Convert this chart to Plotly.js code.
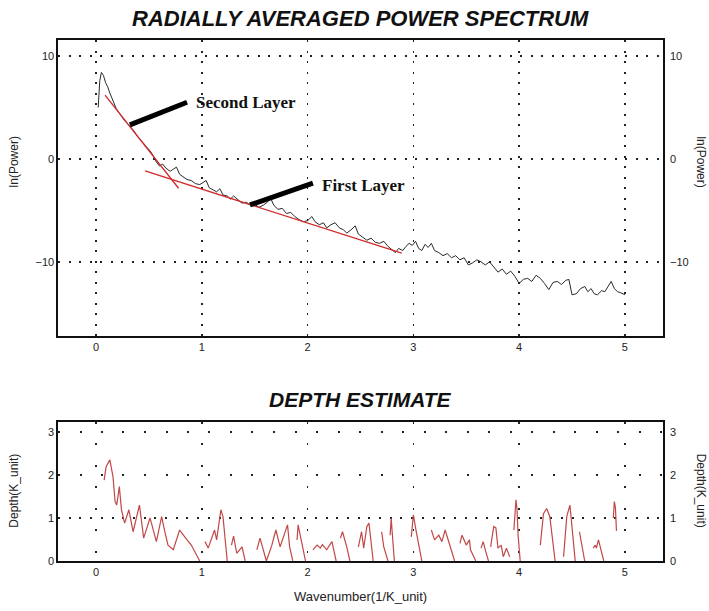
<!DOCTYPE html>
<html>
<head>
<meta charset="utf-8">
<script src="https://cdn.plot.ly/plotly-3.0.1.min.js"></script>
<style>html,body{margin:0;padding:0;background:#fff;}#chart{width:709px;height:611px;}</style>
</head>
<body>
<div id="chart"></div>
<script>
// Power spectrum: wavenumber and ln(Power)
const specK = [0.02,0.035,0.05,0.07,0.09,0.11,0.13,0.15,0.17,0.19,0.21,0.23,0.25,0.27,0.30,0.33,0.36,0.39,0.42,0.45,0.48,0.51,0.54,0.57,0.60,0.63,0.66,0.70,0.73,0.76,0.79,0.82,0.86,0.90,0.94,0.98,1.01,1.04,1.07,1.10,1.14,1.17,1.20,1.24,1.27,1.30,1.34,1.38,1.42,1.46,1.50,1.54,1.58,1.62,1.65,1.68,1.72,1.76,1.80,1.84,1.88,1.92,1.96,2.00,2.04,2.07,2.11,2.15,2.18,2.22,2.26,2.30,2.34,2.37,2.41,2.45,2.48,2.52,2.56,2.60,2.64,2.68,2.72,2.76,2.80,2.83,2.86,2.90,2.93,2.96,2.99,3.02,3.05,3.08,3.11,3.14,3.17,3.20,3.24,3.28,3.32,3.36,3.40,3.44,3.48,3.52,3.56,3.60,3.64,3.68,3.72,3.76,3.80,3.84,3.88,3.92,3.96,4.00,4.04,4.08,4.12,4.16,4.20,4.24,4.28,4.32,4.36,4.40,4.44,4.47,4.50,4.54,4.58,4.62,4.65,4.68,4.71,4.74,4.78,4.81,4.84,4.87,4.90,4.93,4.96,5.00];
const specLnP = [5.0,7.6,8.4,8.1,7.4,7.0,6.4,5.9,5.4,4.9,4.6,4.3,4.0,3.7,3.4,3.1,2.7,2.2,1.9,1.5,1.1,0.8,0.3,-0.3,-0.7,-0.5,-0.9,-1.2,-1.0,-0.8,-1.5,-1.7,-2.0,-2.1,-2.4,-2.5,-2.3,-2.1,-2.8,-3.0,-3.2,-2.9,-3.5,-3.6,-3.9,-3.6,-4.0,-4.3,-4.2,-4.5,-4.4,-4.7,-4.5,-4.2,-3.8,-4.5,-4.9,-4.8,-5.3,-5.2,-5.6,-5.9,-6.1,-6.0,-5.6,-6.1,-6.4,-6.2,-6.7,-6.4,-6.2,-6.7,-6.9,-7.2,-6.9,-6.5,-7.3,-7.6,-7.9,-7.7,-8.1,-8.2,-8.0,-8.5,-8.8,-9.1,-8.7,-8.9,-8.5,-8.2,-8.4,-8.0,-8.7,-8.9,-8.3,-8.6,-8.2,-8.9,-9.1,-9.4,-9.2,-9.6,-9.4,-9.8,-9.6,-10.3,-10.1,-9.8,-10.0,-10.3,-10.0,-10.5,-11.0,-10.7,-11.2,-10.9,-11.4,-12.1,-11.7,-11.6,-11.9,-11.3,-11.6,-12.1,-12.7,-12.0,-11.9,-12.2,-11.8,-11.7,-13.2,-13.1,-12.6,-12.4,-12.9,-12.6,-13.1,-13.2,-12.8,-12.9,-12.4,-11.9,-12.6,-12.9,-13.0,-13.2];

// Fitted segments
const fitSecondK = [0.085, 0.78];
const fitSecondLnP = [6.2, -2.85];
const fitFirstK = [0.463, 2.89];
const fitFirstLnP = [-1.17, -9.16];

// Depth estimate (null = gap)
const depthK = [0.076,0.095,0.13,0.16,0.18,0.195,0.22,0.24,0.27,0.31,0.35,0.41,0.45,0.51,0.57,0.62,0.65,0.68,0.73,0.79,0.86,0.90,0.98,1.00,
1.03,1.06,1.12,1.14,1.18,1.20,1.24,1.26,
1.28,1.30,1.33,1.38,1.41,1.45,
1.52,1.55,1.61,1.66,1.70,1.74,1.77,1.81,1.83,1.86,1.88,
1.90,1.91,1.98,2.02,
2.05,2.09,2.12,2.14,2.18,2.23,2.27,2.29,
2.31,2.33,2.37,2.40,2.44,
2.48,2.51,2.53,2.56,2.58,2.62,2.66,
2.70,2.72,2.76,2.77,
2.78,2.79,2.82,2.90,
2.98,3.00,3.03,3.08,3.12,
3.17,3.20,3.24,3.27,3.30,3.36,3.39,3.41,
3.44,3.46,3.50,3.53,3.54,3.59,3.61,
3.64,3.66,3.68,3.71,3.72,
3.73,3.76,3.78,3.80,3.83,3.85,3.88,3.91,3.93,
3.95,3.97,3.98,3.99,4.01,4.10,
4.20,4.23,4.26,4.29,4.32,4.34,4.38,
4.42,4.45,4.48,4.50,4.53,4.55,
4.57,4.62,4.66,
4.70,4.72,4.73,4.75,4.80,4.85,
4.89,4.90,4.91,4.92];
const depthVal = [1.88,2.19,2.35,1.96,1.38,1.30,1.73,1.19,0.88,1.19,0.68,1.30,0.53,1.00,0.45,1.03,0.68,0.37,0.26,0.72,0.49,0.37,0.0,null,
0.45,0.30,0.72,0.49,1.19,1.03,0.0,null,
0.37,0.58,0.18,0.33,0.0,null,
0.26,0.53,0.0,0.35,0.72,0.33,0.55,0.84,0.33,0.0,null,
0.49,0.84,0.0,null,
0.26,0.37,0.30,0.38,0.26,0.45,0.0,null,
0.53,0.68,0.33,0.0,null,
0.33,0.68,0.30,0.80,0.88,0.0,null,
0.68,0.33,0.0,null,
0.60,0.99,0.0,null,
0.56,1.07,0.64,0.0,null,
0.72,0.49,0.60,0.45,0.72,0.26,0.0,null,
0.41,0.60,0.37,0.49,0.26,0.0,null,
0.30,0.45,0.26,0.0,null,
0.33,0.80,0.77,0.30,0.37,0.10,0.30,0.10,null,
0.72,1.42,1.19,0.60,0.0,null,
0.37,1.10,1.22,1.03,0.41,0.0,null,
0.10,1.03,1.30,0.80,0.0,null,
0.68,0.0,null,
0.30,0.37,0.30,0.49,0.0,null,
1.00,1.38,1.25,0.70];

const xTicks = [0,1,2,3,4,5];
const specTicks = [10,0,-10];
const depthTicks = [0,1,2,3];

const tickFont = {family:'Liberation Sans, Arial, sans-serif', size:11, color:'#222'};
const dotGrid = '2px,8.5px';

// hidden copies bind the overlay (right-side / extra grid) axes so they are drawn
const ghost = {type:'scatter', mode:'lines', opacity:0, line:{width:0}, hoverinfo:'skip'};

const traces = [
  {x:specK, y:specLnP, type:'scatter', mode:'lines', line:{color:'#2a2a2a', width:1}, xaxis:'x', yaxis:'y', hoverinfo:'skip'},
  {x:fitSecondK, y:fitSecondLnP, type:'scatter', mode:'lines', line:{color:'#d02a2a', width:1.3}, xaxis:'x', yaxis:'y'},
  {x:fitFirstK, y:fitFirstLnP, type:'scatter', mode:'lines', line:{color:'#d02a2a', width:1.3}, xaxis:'x', yaxis:'y'},
  {x:depthK, y:depthVal, type:'scatter', mode:'lines', connectgaps:false, line:{color:'#c24848', width:1.2}, xaxis:'x2', yaxis:'y2'},
  Object.assign({x:specK, y:specLnP, xaxis:'x', yaxis:'y3'}, ghost),
  Object.assign({x:depthK, y:depthVal, xaxis:'x2', yaxis:'y4'}, ghost),
  Object.assign({x:depthK, y:depthVal, xaxis:'x2', yaxis:'y5'}, ghost),
  Object.assign({x:depthK, y:depthVal, xaxis:'x2', yaxis:'y6'}, ghost)
];

const axBase = {showline:true, mirror:true, linecolor:'#111', linewidth:1.6, ticks:'', tickfont:tickFont, zeroline:false, gridcolor:'#222', gridwidth:1.6};

const layout = {
  width:709, height:611,
  margin:{l:58, r:46, t:40, b:50},
  paper_bgcolor:'#fff', plot_bgcolor:'#fff',
  showlegend:false,
  xaxis: Object.assign({}, axBase, {domain:[0,1], anchor:'y', range:[-0.36,5.36], tickvals:xTicks, showgrid:true, griddash:dotGrid}),
  yaxis: Object.assign({}, axBase, {domain:[0.4319,1], anchor:'x', range:[-17.2,11.55], tickvals:specTicks, showgrid:true, griddash:dotGrid}),
  yaxis3: Object.assign({}, axBase, {overlaying:'y', side:'right', anchor:'x', range:[-17.2,11.55], tickvals:specTicks, showgrid:false, showline:false, ticklabelstandoff:6}),
  xaxis2: Object.assign({}, axBase, {domain:[0,1], anchor:'y2', range:[-0.36,5.36], tickvals:xTicks, showgrid:true, griddash:'2px,19.5px'}),
  yaxis2: Object.assign({}, axBase, {domain:[0,0.2668], anchor:'x2', range:[0,3.23], tickvals:depthTicks, showgrid:false}),
  yaxis4: Object.assign({}, axBase, {overlaying:'y2', side:'right', anchor:'x2', range:[0,3.23], tickvals:depthTicks, showgrid:false, showline:false, ticklabelstandoff:6}),
  yaxis5: Object.assign({}, axBase, {overlaying:'y2', anchor:'x2', range:[0,3.23], tickvals:[1], showticklabels:false, showline:false, showgrid:true, griddash:'2px,8.7px'}),
  yaxis6: Object.assign({}, axBase, {overlaying:'y2', anchor:'x2', range:[0,3.23], tickvals:[2,3], showticklabels:false, showline:false, showgrid:true, griddash:'2px,19.5px'}),
  shapes:[
    {type:'line', xref:'x', yref:'y', x0:0.32, y0:3.3, x1:0.86, y1:5.5, line:{color:'#000', width:5}},
    {type:'line', xref:'x', yref:'y', x0:1.455, y0:-4.47, x1:2.05, y1:-2.36, line:{color:'#000', width:5}}
  ],
  annotations:[
    {text:'<b><i>RADIALLY AVERAGED POWER SPECTRUM</i></b>', xref:'paper', yref:'paper', x:0.5, y:1.0, yshift:36, showarrow:false, font:{family:'Liberation Sans, Arial, sans-serif', size:22, color:'#111'}},
    {text:'<b><i>DEPTH ESTIMATE</i></b>', xref:'paper', yref:'paper', x:0.5, y:0.2668, yshift:9, showarrow:false, font:{family:'Liberation Sans, Arial, sans-serif', size:21, color:'#111'}},
    {text:'Second Layer', xref:'x', yref:'y', x:0.93, y:5.5, xanchor:'left', showarrow:false, font:{family:'Liberation Serif, Times New Roman, serif', size:17, color:'#111', weight:'bold'}},
    {text:'First Layer', xref:'x', yref:'y', x:2.12, y:-2.6, xanchor:'left', showarrow:false, font:{family:'Liberation Serif, Times New Roman, serif', size:17, color:'#111', weight:'bold'}},
    {text:'ln(Power)', xref:'paper', yref:'paper', x:-0.0727, y:0.765, xanchor:'center', yanchor:'middle', textangle:-90, showarrow:false, font:{family:'Liberation Sans, Arial, sans-serif', size:12, color:'#222'}},
    {text:'ln(Power)', xref:'paper', yref:'paper', x:1.0628, y:0.765, xanchor:'center', yanchor:'middle', textangle:90, showarrow:false, font:{family:'Liberation Sans, Arial, sans-serif', size:12, color:'#222'}},
    {text:'Depth(K_unit)', xref:'paper', yref:'paper', x:-0.0727, y:0.135, xanchor:'center', yanchor:'middle', textangle:-90, showarrow:false, font:{family:'Liberation Sans, Arial, sans-serif', size:12, color:'#222'}},
    {text:'Depth(K_unit)', xref:'paper', yref:'paper', x:1.0628, y:0.135, xanchor:'center', yanchor:'middle', textangle:90, showarrow:false, font:{family:'Liberation Sans, Arial, sans-serif', size:12, color:'#222'}},
    {text:'Wavenumber(1/K_unit)', xref:'paper', yref:'paper', x:0.5, y:0, yshift:-45, showarrow:false, font:{family:'Liberation Sans, Arial, sans-serif', size:13, color:'#222'}}
  ]
};

Plotly.newPlot('chart', traces, layout, {staticPlot:true, displayModeBar:false});
</script>
</body>
</html>
